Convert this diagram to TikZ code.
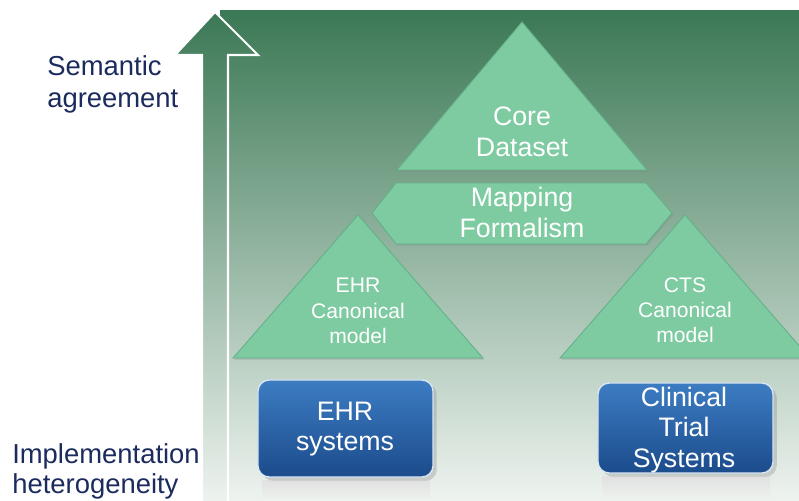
\documentclass[tikz,border=0pt]{standalone}
\usepackage{fontspec}
\setmainfont{Liberation Sans}
\usepackage{tikz}
\usetikzlibrary{positioning,shadows}

\definecolor{leafgreen}{HTML}{3B7855}
\definecolor{midgreen}{HTML}{6E9F7F}
\definecolor{palegreen}{HTML}{EEF3EF}
\definecolor{mint}{HTML}{7ECBA2}
\definecolor{mintedge}{HTML}{62B089}
\definecolor{navytext}{HTML}{1B2B5E}
\definecolor{boxtop}{HTML}{3D7CC2}
\definecolor{boxbottom}{HTML}{1B4C8C}

\begin{document}
\begin{tikzpicture}[x=0.025cm, y=-0.025cm,
	sidetext/.style={text=navytext, align=left, inner sep=0pt, font=\fontsize{19.5}{23}\selectfont},
	tritext/.style={text=white, align=center, inner sep=0pt, font=\fontsize{19}{22}\selectfont},
	smalltext/.style={text=white, align=center, inner sep=0pt, font=\fontsize{15}{18}\selectfont},
	field/.style={top color=leafgreen, middle color=midgreen, bottom color=palegreen},
	layer/.style={fill=mint, draw=mintedge, line width=0.6pt, drop shadow={opacity=0.3, shadow xshift=0.8pt, shadow yshift=-1.2pt}},
	sysbox/.style={rectangle, rounded corners=8pt, draw=white!80!boxtop, line width=1pt, top color=boxtop, bottom color=boxbottom, minimum width=4.375cm, drop shadow={opacity=0.3}},
	systext/.style={text=white, align=center, inner sep=0pt, font=\fontsize{19}{21.5}\selectfont}]
		\useasboundingbox (0,0) rectangle (799,500);
		% green field and the axis arrow
		\shade[field] (220,10) rectangle (799,500);
		\path[field, draw=white, line width=1.5pt]
			(202,502) -- (202,55) -- (175,55) -- (215,12) -- (258,55) -- (228,55) -- (228,502) -- cycle;
		\node[sidetext, anchor=north west] (semantic) at (47,55) {Semantic\\agreement};
		\node[sidetext, anchor=north west, font=\fontsize{19.5}{21.5}\selectfont] (implement) at (12,443) {Implementation\\heterogeneity};
		% layers
		\path[layer] (522,22) -- (647,170) -- (397,170) -- cycle;
		\node[tritext, anchor=north] (core) at (522,107) {Core\\Dataset};
		\path[layer] (372,213) -- (396,183) -- (646,183) -- (672,213) -- (646,244) -- (396,244) -- cycle;
		\node[tritext, anchor=north] (mapping) at (522,187) {Mapping\\Formalism};
		\path[layer] (358,215) -- (483,358) -- (233,358) -- cycle;
		\node[smalltext, anchor=north] (ehrmodel) at (358,278) {EHR\\Canonical\\model};
		\path[layer] (685,215) -- (810,358) -- (560,358) -- cycle;
		\node[smalltext, anchor=north] (ctsmodel) at (685,277) {CTS\\Canonical\\model};
		% source systems
		\shade[top color=black!12, bottom color=palegreen] (262,480) rectangle (430,500);
		\shade[top color=black!12, bottom color=palegreen] (602,476) rectangle (770,500);
		\node[sysbox, minimum height=2.425cm] (ehrbox) at (345.5,428.5) {};
		\node[systext, anchor=north] (ehrsys) at (345,402) {EHR\\systems};
		\node[sysbox, minimum height=2.25cm] (ctsbox) at (685.5,428) {};
		\node[systext, anchor=north] (ctssys) at (684,387) {Clinical\\Trial\\Systems};
	\end{tikzpicture}
\end{document}
